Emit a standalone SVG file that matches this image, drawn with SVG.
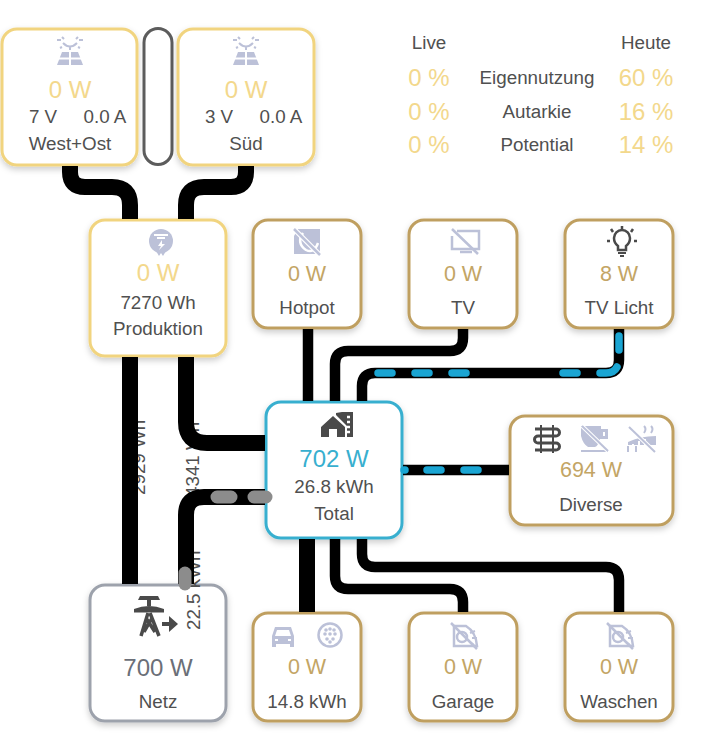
<svg xmlns="http://www.w3.org/2000/svg" xmlns:xlink="http://www.w3.org/1999/xlink" width="701" height="749" viewBox="0 0 701 749">
<style>
text{font-family:"Liberation Sans",Arial,sans-serif;text-anchor:middle;fill:#505050;font-size:18.800px}
.box{fill:#fff;stroke-width:3;filter:url(#sh)}
.y{stroke:#f1d47f}.g{stroke:#bf9f60}.b{stroke:#38afcf}.n{stroke:#9da2ac}
.py{fill:#f3d88c;font-size:24px}
.pg{fill:#c3a565;font-size:21.500px}
.lk{fill:none;stroke:#000;stroke-width:10.500}
.lk16{fill:none;stroke:#000;stroke-width:16}
.fb{fill:none;stroke:#1aa5d3;stroke-width:7.500;stroke-linecap:round}
.fg{fill:none;stroke:#8c8c8c;stroke-width:13;stroke-linecap:round}
.ic{fill:#bcc1d8}
.il{fill:none;stroke:#bcc1d8;stroke-width:2.500}
.dk{fill:#4a4a4a}
.dl{fill:none;stroke:#4a4a4a;stroke-width:2.500}
.cut{fill:none;stroke:#fff;stroke-width:2}
</style>
<defs>
<filter id="sh" x="-15%" y="-15%" width="130%" height="135%"><feDropShadow dx="0" dy="3" stdDeviation="3" flood-color="#000" flood-opacity="0.2"/></filter>
<g id="solar">
<path class="ic" d="M-8 14H8L13 27H-13Z"/>
<path class="cut" d="M-11 20.500H11M0 13V28"/>
<path d="M-13 2H-9M13 2H9M-8 -1L-6 1M8 -1L6 1M-7 5Q0 12 7 5M-10 10L-8 9M10 10L8 9M0 9V12" fill="none" stroke="#bcc1d8" stroke-width="2"/>
</g>
<g id="plugoff">
<path class="il" d="M-10 -10H2Q12 -4 13 10H-10Z"/>
<circle cx="-2" cy="1" r="5" class="il"/>
<path d="M6 -3L11 -5M8 2H13M6 6L10 9" fill="none" stroke="#bcc1d8" stroke-width="2"/>
<path d="M-13 -13L13 13" stroke="#bcc1d8" stroke-width="2.500" fill="none"/>
</g>
</defs>

<g id="stats">
<text x="429" y="49">Live</text><text x="646" y="49">Heute</text>
<text x="429" y="86" class="py">0 %</text><text x="537" y="84">Eigennutzung</text><text x="646" y="86" class="py">60 %</text>
<text x="429" y="120" class="py">0 %</text><text x="537" y="118">Autarkie</text><text x="646" y="120" class="py">16 %</text>
<text x="429" y="153" class="py">0 %</text><text x="537" y="151">Potential</text><text x="646" y="153" class="py">14 %</text>
</g>

<g id="node-west">
<rect class="box y" x="2" y="29" width="135" height="136" rx="15"/>
<use xlink:href="#solar" href="#solar" x="70" y="38"/>
<text x="70" y="98" class="py">0 W</text>
<text x="43" y="123">7 V</text><text x="105" y="123">0.0 A</text>
<text x="70" y="150">West+Ost</text>
</g>
<g id="node-switch"><rect x="144" y="28.500" width="28" height="136" rx="14" fill="#fff" stroke="#5c5c5c" stroke-width="3"/></g>
<g id="node-sued">
<rect class="box y" x="178" y="29" width="136" height="136" rx="15"/>
<use xlink:href="#solar" href="#solar" x="246" y="38"/>
<text x="246" y="98" class="py">0 W</text>
<text x="219" y="123">3 V</text><text x="281" y="123">0.0 A</text>
<text x="246" y="150">Süd</text>
</g>

<g id="node-produktion">
<rect class="box y" x="90" y="220" width="136" height="136" rx="15"/>
<circle cx="161" cy="241" r="12" class="ic"/>
<path d="M154 235H168M157 238H165" stroke="#fff" stroke-width="2" fill="none"/>
<path d="M162 240L158 246H161L159 250L165 244H162Z" fill="#fff"/>
<path class="ic" d="M156 251H166L163 256L161 253L159 256Z"/>
<text x="158" y="281" class="py">0 W</text>
<text x="158" y="309">7270 Wh</text>
<text x="158" y="335">Produktion</text>
</g>

<g id="node-hotpot">
<rect class="box g" x="253" y="220" width="108" height="108" rx="15"/>
<path class="ic" d="M298 229H320V254H294V236Z"/>
<path d="M303 233Q296 243 306 250Q314 254 318 243" stroke="#fff" stroke-width="2.500" fill="none"/>
<path d="M294 229L320 255" stroke="#fff" stroke-width="5" fill="none"/>
<path d="M294 229L320 255" stroke="#bcc1d8" stroke-width="2.500" fill="none"/>
<text x="307" y="281" class="pg">0 W</text>
<text x="307" y="314">Hotpot</text>
</g>

<g id="node-tv">
<rect class="box g" x="409" y="220" width="108" height="108" rx="15"/>
<path class="il" d="M457 231H479V249H452V236"/>
<path class="il" d="M460 252H472"/>
<path d="M452 229L478 254" stroke="#bcc1d8" stroke-width="2.500" fill="none"/>
<text x="463" y="281" class="pg">0 W</text>
<text x="463" y="314">TV</text>
</g>

<g id="node-tvlicht">
<rect class="box g" x="565" y="220" width="108" height="108" rx="15"/>
<path class="dl" d="M618 250V246Q614 243 614 238A8 8 0 0 1 630 238Q630 243 626 246V250Z"/>
<path d="M618 253H626M620 256H624" stroke="#4a4a4a" stroke-width="2" fill="none"/>
<path d="M622 226V229M611 229L613 232M633 229L631 232M607 241H610M634 241H637" stroke="#4a4a4a" stroke-width="2.500" fill="none"/>
<text x="619" y="281" class="pg">8 W</text>
<text x="619" y="314">TV Licht</text>
</g>

<g id="node-total">
<rect class="box b" x="266" y="402" width="136" height="136" rx="15"/>
<path class="dk" d="M321 427L333 416L345 427V437H337V429H329V437H321Z"/>
<path class="dk" d="M336 413L342 412H353V437H347V426L336 415Z"/>
<path d="M347 417H350M347 422H350M347 427H350M347 432H350" stroke="#fff" stroke-width="2.500" fill="none"/>
<text x="334" y="467" style="fill:#38afcf;font-size:24px">702 W</text>
<text x="334" y="493">26.8 kWh</text>
<text x="334" y="520">Total</text>
</g>

<g id="node-diverse">
<rect class="box g" x="510" y="416" width="163" height="109" rx="15"/>
<path d="M535 429H556a3.500 3.500 0 0 1 0 7H538a3.500 3.500 0 0 0 0 7H556a3.500 3.500 0 0 1 0 7H535" fill="none" stroke="#4a4a4a" stroke-width="3"/>
<path d="M541 425V453M553 425V453" fill="none" stroke="#4a4a4a" stroke-width="2"/>
<path class="ic" d="M581 426H601V429H608V439H600Q598 446 595 447H588Q583 444 581 436Z"/>
<path d="M604 432V436" stroke="#fff" stroke-width="2"/>
<path d="M581 451H608" stroke="#bcc1d8" stroke-width="2"/>
<path d="M582 426L608 451" stroke="#fff" stroke-width="4"/><path d="M582 426L608 451" stroke="#bcc1d8" stroke-width="2"/>
<path class="ic" d="M628 452V442Q640 436 656 436V445H628Z"/>
<path d="M633 444V451M639 441V451M645 439V447" stroke="#fff" stroke-width="2"/>
<path d="M628 446V452M636 446V452" stroke="#bcc1d8" stroke-width="2"/>
<path d="M644 426Q647 429 644 433M651 426Q654 429 651 433" stroke="#bcc1d8" stroke-width="2" fill="none"/>
<path d="M629 427L655 452" stroke="#fff" stroke-width="4"/><path d="M629 427L655 452" stroke="#bcc1d8" stroke-width="2"/>
<text x="591" y="477" class="pg">694 W</text>
<text x="591" y="511">Diverse</text>
</g>

<g id="node-netz">
<rect class="box n" x="90" y="585" width="136" height="136" rx="15"/>
<path class="dk" d="M140 596H158L160 600H138ZM147 600H151V606H147ZM134 609Q149 603 164 609V612.500H134Z"/>
<path d="M148 613L141 636M150 613L159 636M146 618L155 632M152 618L144 632" stroke="#4a4a4a" stroke-width="3.500" fill="none"/>
<path d="M162 624H171" stroke="#4a4a4a" stroke-width="4"/><path class="dk" d="M169 616L178 624L169 632Z"/>
<text x="158" y="676" style="fill:#6b6f78;font-size:24px">700 W</text>
<text x="158" y="708">Netz</text>
</g>

<g id="node-ev">
<rect class="box g" x="253" y="613" width="108" height="108" rx="15"/>
<path class="ic" d="M275 627H291L294 636V647H290V644H276V647H272V636ZM277 630L275 636H291L289 630Z" fill-rule="evenodd"/>
<path d="M275 640H278M288 640H291" stroke="#fff" stroke-width="2"/>
<circle cx="330" cy="635" r="11.500" class="il" stroke-width="2"/>
<g fill="#bcc1d8"><circle cx="326" cy="630" r="1.800"/><circle cx="330" cy="629" r="1.800"/><circle cx="334" cy="630" r="1.800"/><circle cx="325" cy="634" r="1.800"/><circle cx="330" cy="634" r="1.800"/><circle cx="335" cy="634" r="1.800"/><circle cx="327" cy="639" r="1.800"/><circle cx="333" cy="639" r="1.800"/><circle cx="330" cy="642" r="1.800"/></g>
<text x="307" y="674" class="pg">0 W</text>
<text x="307" y="708">14.8 kWh</text>
</g>

<g id="node-garage">
<rect class="box g" x="409" y="613" width="108" height="108" rx="15"/>
<use xlink:href="#plugoff" href="#plugoff" x="464" y="636"/>
<text x="463" y="674" class="pg">0 W</text>
<text x="463" y="708">Garage</text>
</g>

<g id="node-waschen">
<rect class="box g" x="565" y="613" width="108" height="108" rx="15"/>
<use xlink:href="#plugoff" href="#plugoff" x="620" y="636"/>
<text x="619" y="674" class="pg">0 W</text>
<text x="619" y="708">Waschen</text>
</g>

<g id="connector-labels">
<text transform="translate(145 495) rotate(-90)" style="text-anchor:start">2929 Wh</text>
<text transform="translate(199 497) rotate(-90)" style="text-anchor:start">4341 Wh</text>
<text transform="translate(200 630) rotate(-90)" style="text-anchor:start">22.5 kWh</text>
</g>

<g id="connectors">
<path class="lk16" d="M70 166V172Q70 187 85 187H112Q130 187 130 205V219"/>
<path class="lk16" d="M246 166V172Q246 187 231 187H204Q186 187 186 205V219"/>
<path class="lk16" d="M130 357V584"/>
<path class="lk16" d="M186 357V422Q186 443 207 443H265"/>
<path class="lk16" d="M186 584V515Q186 497 204 497H265"/>
<path class="lk" d="M308 329V401"/>
<path class="lk" d="M463 329V338Q463 351 450 351H348Q335 351 335 364V401"/>
<path class="lk" d="M619 329V360Q619 373 606 373H375Q362 373 362 386V401"/>
<path class="lk" d="M403 470H509"/>
<path class="lk16" d="M307 539V612"/>
<path class="lk" d="M335 539V576Q335 589 348 589H450Q463 589 463 602V612"/>
<path class="lk" d="M362 539V554Q362 567 375 567H606Q619 567 619 580V612"/>
<path class="fg" d="M217 497H231M254 497H266"/>
<path class="fg" d="M185 573V584"/>
<path class="fb" d="M619 336V350M600 373H606Q614 373 617 367M563 373H577M452 373H466M415 373H429M378 373H392"/>
<path class="fb" d="M404 470H405M427 470H441M464 470H478"/>
</g>
</svg>
